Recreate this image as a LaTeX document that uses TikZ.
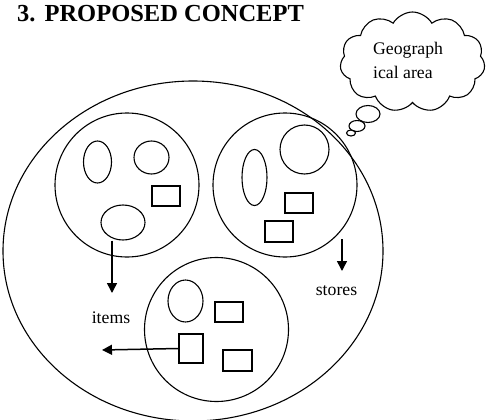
\documentclass[tikz,border=0pt]{standalone}
\usepackage{fontspec}
\setmainfont{Liberation Serif}
\usetikzlibrary{shapes.geometric,shapes.symbols,arrows.meta}
\begin{document}
\begin{tikzpicture}[x=1pt,y=-1pt,
  ln/.style={draw, line width=1.1pt},
  bigc/.style={ln, circle, minimum size=144pt, inner sep=0pt},
  ell/.style={ln, ellipse, inner sep=0pt},
  box/.style={ln, rectangle, inner sep=0pt},
  lbl/.style={font=\fontsize{17.7}{21}\selectfont, inner sep=0pt, anchor=base},
  arr/.style={line width=1.5pt, -{Triangle[length=10pt,width=10pt]}}]
\useasboundingbox (0,0) rectangle (487,420);
% title
\node[font=\bfseries\fontsize{24.5}{28}\selectfont, inner sep=0pt, anchor=base west] (title) at (17,22) {3.\hspace{9pt}PROPOSED CONCEPT};
% outer ellipse
\node[ell, minimum width=380pt, minimum height=340pt] (outer) at (193,251) {};
% circle 1
\node[bigc] (c1) at (127,185) {};
\node[ell, minimum width=28pt, minimum height=42pt] (e1a) at (97.5,162) {};
\node[ell, minimum width=35pt, minimum height=33pt] (e1b) at (151.5,157.5) {};
\node[box, minimum width=28pt, minimum height=20pt] (r1a) at (166,196) {};
\node[ell, minimum width=44pt, minimum height=35pt] (e1c) at (123,222.5) {};
% circle 2
\node[bigc] (c2) at (285,185) {};
\node[ell, minimum width=25pt, minimum height=56pt] (e2a) at (254.5,177.5) {};
\node[ell, minimum width=49pt, minimum height=49pt] (e2b) at (304.5,149.5) {};
\node[box, minimum width=28pt, minimum height=20pt] (r2a) at (299,203) {};
\node[box, minimum width=28pt, minimum height=21pt] (r2b) at (279,231.5) {};
% circle 3
\node[bigc] (c3) at (216.5,329.5) {};
\node[ell, minimum width=35pt, minimum height=42pt] (e3a) at (185.5,301) {};
\node[box, minimum width=28pt, minimum height=20pt] (r3a) at (229,312) {};
\node[box, minimum width=24pt, minimum height=29pt] (r3b) at (191,348.5) {};
\node[box, minimum width=29pt, minimum height=21pt] (r3c) at (237.5,360.5) {};
% arrows and labels
\coordinate (t1) at (112,293);
\draw[arr] (e1c.south -| t1) -- (t1);
\coordinate (s2) at (342,239);
\coordinate (t2) at (342,271);
\draw[arr] (s2) -- (t2);
\coordinate (t3) at (102,350);
\draw[arr] (r3b.west) -- (t3);
\node[lbl] (items) at (111,323) {items};
\node[lbl] (stores) at (336.5,295) {stores};
% cloud
\node[ln, cloud, cloud puffs=11, cloud puff arc=120, cloud ignores aspect,
      minimum width=145pt, minimum height=100pt, inner sep=0pt] (cloud) at (412.5,62) {};
\node[lbl, anchor=base west] (geoA) at (373,55) {Geograph};
\node[lbl, anchor=base west] (geoB) at (373,78) {ical area};
\node[ell, minimum width=24pt, minimum height=17pt] (b1) at (368,114) {};
\node[ell, minimum width=16pt, minimum height=11pt] (b2) at (357,126) {};
\node[ell, minimum width=9pt, minimum height=6pt] (b3) at (351,133) {};
\end{tikzpicture}
\end{document}
